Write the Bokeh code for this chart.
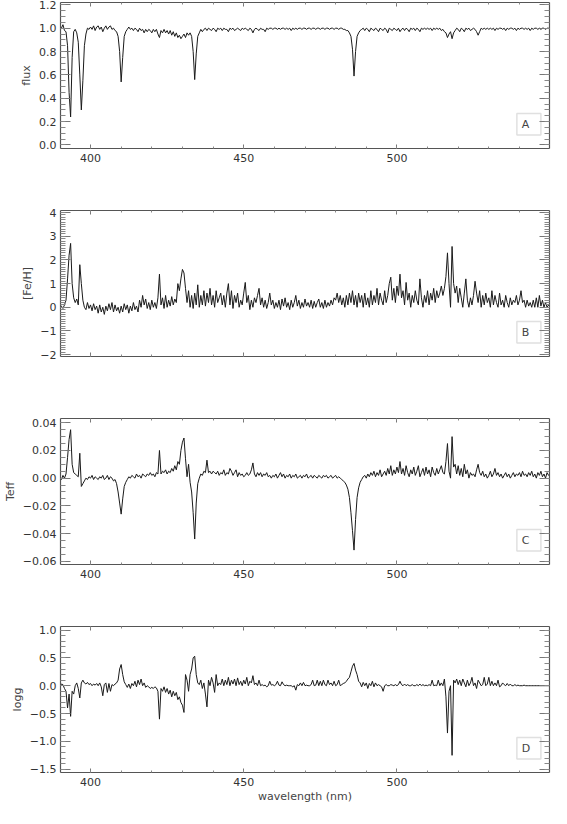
import numpy as np
from bokeh.plotting import figure
from bokeh.layouts import column
from bokeh.models import (LinearAxis, SingleIntervalTicker, CustomJSTickFormatter,
                          Label, BoxAnnotation, Range1d)
from bokeh.embed import file_html
from bokeh.resources import INLINE

# wavelength grid (nm), 0.5 nm sampling from 390 to 550
wave = np.arange(390.0, 550.01, 0.5)

flux = [
    0.99, 1.00, 1.03, 0.98, 0.97, 0.85, 0.45, 0.24, 0.75, 0.97, 0.99, 0.96, 0.88, 0.60, 0.30, 0.55, 0.85, 0.95, 1.00, 0.99,
    1.01, 0.99, 1.02, 0.98, 1.01, 1.02, 0.99, 1.01, 0.97, 1.00, 1.02, 0.99, 1.01, 1.02, 0.99, 1.00, 0.98, 0.97, 0.93, 0.80,
    0.54, 0.75, 0.93, 0.97, 0.99, 1.01, 0.99, 1.00, 0.98, 1.00, 0.99, 0.97, 1.00, 0.98, 0.99, 0.96, 0.99, 0.97, 0.99, 0.98,
    0.96, 0.99, 0.97, 0.99, 0.95, 0.92, 0.98, 0.96, 0.99, 0.96, 0.98, 0.95, 0.98, 0.94, 0.97, 0.93, 0.96, 0.92, 0.94, 0.91,
    0.93, 0.95, 0.92, 0.96, 0.94, 0.96, 0.93, 0.80, 0.56, 0.78, 0.93, 0.96, 0.99, 0.97, 0.99, 1.00, 0.98, 1.00, 0.99, 0.98,
    1.00, 0.99, 0.97, 1.00, 0.99, 1.00, 0.98, 1.00, 0.99, 0.99, 0.97, 1.00, 0.99, 1.00, 0.98, 0.99, 1.00, 0.99, 0.98, 1.00,
    0.99, 1.00, 0.99, 0.98, 1.00, 0.99, 0.96, 0.99, 1.00, 0.99, 0.98, 1.00, 0.99, 0.99, 0.97, 1.00, 0.99, 1.00, 1.00, 0.99,
    1.00, 1.00, 0.99, 1.00, 0.99, 1.00, 1.00, 0.99, 1.00, 0.99, 1.00, 0.98, 1.00, 0.99, 1.00, 0.99, 1.00, 1.00, 0.99, 1.00,
    1.00, 0.99, 1.00, 1.00, 0.99, 1.00, 1.00, 0.99, 1.00, 1.00, 0.99, 1.00, 1.00, 0.99, 1.00, 1.00, 0.99, 1.00, 1.00, 0.99,
    1.00, 1.00, 0.99, 1.00, 1.00, 0.99, 0.99, 0.98, 0.98, 0.96, 0.93, 0.82, 0.59, 0.80, 0.93, 0.96, 0.98, 0.99, 1.00, 0.98,
    1.00, 0.99, 0.97, 1.00, 0.99, 0.98, 1.00, 0.99, 0.97, 1.00, 0.99, 0.98, 1.00, 0.99, 0.96, 1.00, 0.99, 0.98, 1.00, 0.99,
    0.98, 1.00, 0.97, 0.99, 1.00, 0.98, 1.00, 0.99, 0.97, 1.00, 0.99, 1.00, 0.98, 1.00, 0.99, 0.97, 1.00, 0.99, 1.00, 0.99,
    1.00, 0.99, 1.00, 0.98, 1.00, 0.99, 1.00, 0.99, 1.00, 0.98, 0.99, 0.97, 0.96, 0.92, 0.95, 0.97, 0.91, 0.96, 0.98, 1.00,
    0.99, 0.97, 1.00, 0.99, 0.97, 1.00, 0.99, 1.00, 0.98, 0.99, 1.00, 0.99, 0.97, 0.94, 0.97, 1.00, 0.99, 1.00, 0.99, 1.00,
    0.99, 1.00, 0.99, 1.00, 0.98, 1.00, 0.99, 1.00, 1.00, 0.99, 1.00, 0.98, 1.00, 0.99, 1.00, 1.00, 0.99, 1.00, 0.98, 1.00,
    0.99, 1.00, 1.00, 0.99, 1.00, 0.99, 1.00, 0.98, 1.00, 0.99, 1.00, 1.00, 0.99, 1.00, 0.99, 1.00, 1.00, 0.99, 1.00, 1.00,
    1.00,
]

feh = [
    0.00, 0.05, -0.05, 0.10, 0.30, 1.20, 2.20, 2.70, 1.00, 0.40, 0.20, 0.35, 0.10, 1.80, 1.00, 0.30, 0.00, -0.10, 0.20, -0.05,
    0.10, -0.15, 0.15, -0.10, 0.05, -0.25, 0.10, -0.20, 0.00, -0.30, 0.05, -0.15, 0.15, -0.10, 0.20, -0.20, 0.10, -0.15, 0.00, -0.25,
    0.05, -0.20, 0.15, -0.10, 0.10, -0.25, 0.05, -0.15, 0.20, -0.10, 0.05, -0.20, 0.30, 0.00, 0.50, 0.10, 0.35, -0.05, 0.20, -0.10,
    0.30, 0.00, 0.20, -0.05, 0.40, 1.40, 0.10, 0.40, -0.05, 0.50, 0.00, 0.30, 0.05, 0.45, 0.10, 0.35, 0.20, 1.00, 0.70, 1.20,
    1.60, 1.45, 0.80, 0.20, 0.70, 0.00, 0.50, -0.05, 0.60, 0.10, 0.95, 0.00, 0.50, 0.10, 0.70, 0.05, 0.60, 0.20, 0.80, 0.10,
    0.50, 0.00, 0.70, 0.20, 0.40, 0.60, 0.10, 0.50, 0.00, 0.60, 1.00, 0.10, 0.70, -0.05, 0.50, 0.20, 0.60, 0.00, 0.30, 0.10,
    0.60, 1.05, 0.20, 0.50, -0.10, 0.30, 0.00, 0.40, 0.20, 0.50, 0.80, 0.10, 0.40, 0.00, 0.30, -0.05, 0.20, 0.60, 0.10, 0.30,
    -0.05, 0.20, 0.00, 0.30, -0.10, 0.35, 0.05, 0.40, 0.00, 0.20, -0.10, 0.30, 0.00, 0.20, 0.50, 0.05, 0.30, -0.05, 0.20, 0.00,
    0.35, 0.05, 0.20, 0.00, 0.30, -0.05, 0.25, 0.00, 0.20, 0.35, 0.00, 0.20, -0.05, 0.30, 0.00, 0.20, 0.05, 0.30, 0.10, 0.40,
    0.30, 0.60, 0.20, 0.50, 0.10, 0.40, 0.00, 0.50, 0.10, 0.60, 0.20, 0.70, 0.10, 0.50, 0.00, 0.60, 0.20, 0.50, 0.00, 0.60,
    0.10, 0.40, 0.00, 0.70, 0.10, 0.50, 0.20, 0.80, 0.10, 0.60, 0.30, 0.10, 0.70, 0.20, 0.50, 1.00, 1.27, 0.30, 0.80, 0.20,
    0.90, 0.50, 1.40, 0.40, 0.70, 0.10, 1.05, 0.30, 0.60, 0.00, 0.50, 0.20, 0.70, 0.30, 0.10, 1.20, 0.40, 0.00, 0.50, 0.20,
    0.70, 0.10, 0.60, 0.30, 0.80, 0.20, 0.70, 0.40, 0.60, 0.90, 0.50, 0.80, 1.30, 2.30, 1.00, 0.00, 2.57, 1.00, 0.60, 0.90,
    0.20, 0.80, 0.40, 0.00, 0.60, 1.20, 0.30, 0.00, 0.40, 0.10, 0.50, 1.10, 0.60, 0.20, 0.70, 0.00, 0.50, 0.10, 0.60, 0.20,
    0.40, 0.00, 0.70, 0.10, 0.50, 0.20, 0.00, 0.60, 0.10, 0.30, 0.00, 0.50, 0.20, 0.00, 0.40, 0.10, 0.30, 0.20, 0.50, 0.10,
    0.30, 0.70, 0.20, 0.30, 0.00, 0.30, 0.05, 0.20, 0.00, 0.30, 0.00, 0.40, 0.00, 0.50, 0.05, 0.30, 0.00, 0.20, 0.00, 0.10,
    0.00,
]

teff = [
    0.001, -0.001, 0.002, 0.000, 0.003, 0.015, 0.028, 0.035, 0.010, 0.004, 0.003, 0.002, 0.001, 0.018, -0.006, -0.004, -0.002, 0.000, -0.001, 0.001,
    0.000, 0.002, -0.001, 0.001, 0.000, -0.001, 0.001, 0.000, 0.002, -0.001, 0.000, 0.002, -0.001, 0.001, 0.000, -0.002, -0.001, -0.004, -0.010, -0.018,
    -0.026, -0.015, -0.006, -0.003, -0.001, 0.001, 0.000, 0.002, 0.001, 0.000, 0.003, 0.001, 0.002, 0.000, 0.003, 0.002, 0.001, 0.003, 0.002, 0.004,
    0.002, 0.003, 0.001, 0.004, 0.003, 0.020, 0.003, 0.005, 0.004, 0.006, 0.003, 0.005, 0.004, 0.007, 0.005, 0.009, 0.006, 0.012, 0.010, 0.020,
    0.026, 0.029, 0.014, 0.001, 0.010, -0.003, -0.010, -0.025, -0.044, -0.018, -0.004, 0.000, 0.003, 0.002, 0.005, 0.004, 0.013, 0.004, 0.005, 0.003,
    0.005, 0.004, 0.003, 0.005, 0.002, 0.004, 0.003, 0.006, 0.002, 0.004, 0.003, 0.007, 0.005, 0.002, 0.004, 0.006, 0.001, 0.004, 0.002, 0.003,
    0.001, 0.002, 0.004, 0.002, 0.003, 0.006, 0.011, 0.003, 0.001, 0.004, 0.002, 0.004, 0.001, 0.003, 0.002, 0.004, 0.001, 0.002, 0.000, 0.002,
    0.001, 0.003, 0.000, 0.002, 0.004, 0.001, 0.003, 0.000, 0.002, 0.001, 0.003, 0.000, 0.002, 0.001, 0.003, 0.000, 0.001, 0.002, 0.000, 0.002,
    0.001, 0.003, 0.000, 0.001, 0.002, 0.000, 0.002, 0.001, 0.000, 0.002, 0.001, 0.000, 0.002, 0.001, 0.002, 0.000, 0.001, 0.002, 0.000, 0.001,
    0.002, 0.000, 0.001, 0.000, -0.001, -0.002, -0.003, -0.005, -0.008, -0.014, -0.025, -0.038, -0.052, -0.030, -0.014, -0.007, -0.003, -0.001, 0.001, 0.002,
    0.000, 0.003, 0.001, 0.004, 0.002, 0.005, 0.001, 0.004, 0.002, 0.006, 0.001, 0.003, 0.005, 0.002, 0.007, 0.003, 0.009, 0.002, 0.006, 0.003,
    0.008, 0.004, 0.012, 0.003, 0.007, 0.002, 0.009, 0.004, 0.001, 0.006, 0.003, 0.008, 0.002, 0.005, 0.009, 0.001, 0.004, 0.007, 0.002, 0.008,
    0.003, 0.006, 0.001, 0.008, 0.004, 0.002, 0.007, 0.003, 0.006, 0.009, 0.004, 0.003, 0.012, 0.025, 0.005, 0.000, 0.030, 0.008, 0.010, 0.003,
    0.009, 0.002, 0.007, 0.001, 0.010, 0.003, 0.006, 0.000, 0.004, 0.002, 0.003, 0.001, 0.006, 0.010, 0.004, 0.002, 0.005, 0.001, 0.003, 0.000,
    0.002, 0.005, 0.001, 0.003, 0.007, 0.002, 0.004, 0.001, 0.003, 0.000, 0.002, 0.004, 0.001, 0.003, 0.000, 0.002, 0.004, 0.001, 0.003, 0.002,
    0.004, 0.001, 0.005, 0.002, 0.003, 0.001, 0.004, 0.002, 0.005, 0.001, 0.003, 0.000, 0.004, 0.002, 0.005, 0.001, 0.003, 0.000, 0.004, 0.002,
    0.001,
]

logg = [
    -0.02, 0.03, 0.02, -0.05, -0.10, -0.40, -0.15, -0.55, -0.10, -0.15, 0.00, 0.05, -0.05, -0.22, 0.05, 0.10, 0.05, 0.03, 0.06, 0.02,
    0.04, 0.00, 0.03, 0.01, 0.04, 0.00, 0.05, -0.02, -0.18, 0.02, 0.05, -0.12, 0.04, -0.10, 0.02, 0.00, 0.03, 0.05, 0.10, 0.30,
    0.38, 0.20, 0.07, 0.02, -0.03, 0.03, -0.05, 0.04, 0.00, 0.08, -0.02, 0.10, 0.02, 0.12, 0.00, 0.05, -0.03, 0.00, -0.02, -0.05,
    -0.03, -0.05, -0.02, -0.04, -0.10, -0.60, -0.05, -0.10, -0.02, -0.12, -0.05, -0.15, -0.08, -0.20, -0.10, -0.18, -0.12, -0.25, -0.20, -0.30,
    -0.35, -0.48, 0.20, 0.10, -0.10, 0.20, 0.30, 0.50, 0.53, 0.20, 0.05, 0.02, 0.10, -0.05, 0.05, -0.15, -0.38, 0.10, 0.00, 0.15,
    0.05, -0.12, 0.20, 0.00, 0.05, 0.02, 0.12, 0.00, 0.10, 0.02, 0.15, 0.00, 0.10, 0.03, 0.12, 0.00, 0.14, 0.02, 0.08, 0.00,
    0.10, 0.03, 0.15, 0.00, 0.08, 0.05, 0.18, 0.02, 0.05, 0.00, 0.10, 0.00, 0.02, 0.00, 0.01, -0.02, 0.00, 0.08, 0.01, 0.02,
    0.00, 0.02, 0.08, 0.01, 0.00, 0.07, 0.02, 0.00, 0.01, 0.00, 0.00, 0.00, -0.02, 0.00, -0.08, 0.02, 0.00, 0.05, 0.00, 0.06,
    0.00, 0.01, 0.00, 0.00, 0.02, 0.10, 0.00, 0.01, 0.10, 0.00, 0.08, 0.00, 0.10, 0.02, 0.00, 0.10, 0.02, 0.05, 0.00, 0.08,
    0.00, 0.02, 0.10, 0.00, 0.02, 0.04, 0.05, 0.08, 0.12, 0.15, 0.25, 0.35, 0.40, 0.28, 0.20, 0.08, 0.05, -0.02, 0.06, 0.00,
    0.05, -0.05, 0.04, 0.00, 0.08, -0.02, 0.05, 0.00, 0.02, 0.00, -0.02, -0.10, 0.00, 0.02, 0.00, 0.00, 0.02, 0.01, 0.00, 0.02,
    0.00, 0.02, 0.08, 0.02, 0.00, 0.03, 0.00, 0.02, 0.00, 0.00, 0.02, 0.00, 0.00, 0.02, 0.00, 0.03, 0.00, 0.02, 0.00, 0.01,
    0.00, 0.02, 0.00, 0.10, 0.00, 0.01, 0.00, 0.10, 0.00, 0.05, 0.00, 0.12, -0.20, -0.85, -0.10, 0.00, -1.25, 0.10, 0.05, 0.12,
    0.02, 0.10, 0.00, 0.12, 0.05, -0.02, 0.10, 0.00, 0.05, 0.15, 0.00, 0.05, -0.05, 0.10, 0.05, 0.00, 0.02, 0.15, 0.00, 0.03,
    0.15, 0.00, 0.08, 0.00, 0.05, 0.00, 0.10, -0.02, 0.00, 0.05, 0.02, 0.00, 0.04, 0.00, 0.03, 0.00, 0.00, 0.02, 0.00, 0.01,
    0.00, 0.00, 0.00, 0.01, 0.00, 0.00, 0.00, 0.00, 0.00, 0.00, 0.00, 0.00, 0.00, 0.00, 0.00, 0.00, 0.00, 0.00, 0.00, 0.00,
    0.00,
]

y_labels = ["flux", "[Fe/H]", "Teff", "logg"]
tags = ["A", "B", "C", "D"]
y_ranges = [(-0.03, 1.22), (-2.08, 4.09), (-0.0624, 0.0431), (-1.558, 1.063)]
y_intervals = [0.2, 1.0, 0.02, 0.5]
y_minor = [4, 10, 4, 5]
y_digits = [1, 0, 2, 1]
x_range = (390.2, 549.8)

FONT = "DejaVu Sans"
AXIS_COL = "#555555"
TEXT_COL = "#333333"

series = [flux, feh, teff, logg]
show_xlabels = [True, False, True, True]
borders = [(2, 30), (32, 30), (32, 30), (32, 34)]
frame_h = 146


def style_common(ax):
    ax.major_tick_out = 0
    ax.minor_tick_out = 0
    ax.axis_line_color = AXIS_COL
    ax.axis_line_width = 1.2
    ax.major_tick_line_color = "#777777"
    ax.minor_tick_line_color = "#888888"
    ax.major_label_text_font = FONT
    ax.major_label_text_color = TEXT_COL
    ax.major_label_text_font_size = "11px"
    ax.axis_label_text_font = FONT
    ax.axis_label_text_font_style = "normal"
    ax.axis_label_text_font_size = "11px"
    ax.axis_label_text_color = "#444444"
    ax.axis_label_standoff = 3


def hide_labels(ax):
    ax.major_label_text_font_size = "0px"
    ax.major_label_standoff = 0


figs = []
for i in range(4):
    assert len(series[i]) == len(wave)
    top, bottom = borders[i]
    p = figure(width=551, height=top + frame_h + bottom,
               x_range=Range1d(*x_range), y_range=Range1d(*y_ranges[i]),
               output_backend="svg", toolbar_location=None,
               min_border_left=50, min_border_right=2,
               min_border_top=top, min_border_bottom=bottom)
    p.xgrid.visible = False
    p.ygrid.visible = False
    p.outline_line_color = None
    p.background_fill_color = "white"
    p.border_fill_color = "white"

    top_axis = LinearAxis()
    right_axis = LinearAxis()
    p.add_layout(top_axis, "above")
    p.add_layout(right_axis, "right")

    fmt = CustomJSTickFormatter(code=(
        "var s = Math.abs(tick).toFixed(%d);"
        "return (tick < -1e-9 ? '\\u2212' : '') + s;" % y_digits[i]))

    bottom_axis = p.below[0]
    left_axis = p.left[0]

    for ax in (bottom_axis, top_axis):
        ax.ticker = SingleIntervalTicker(interval=50, num_minor_ticks=5)
        style_common(ax)
        ax.major_tick_in = 4
        ax.minor_tick_in = 2
    for ax in (left_axis, right_axis):
        ax.ticker = SingleIntervalTicker(interval=y_intervals[i], num_minor_ticks=y_minor[i])
        ax.formatter = fmt
        style_common(ax)
        ax.major_tick_in = 10
        ax.minor_tick_in = 5

    bottom_axis.major_label_standoff = 5
    left_axis.major_label_standoff = 4
    left_axis.axis_label = y_labels[i]
    hide_labels(top_axis)
    hide_labels(right_axis)
    if not show_xlabels[i]:
        hide_labels(bottom_axis)

    if i == 3:
        bottom_axis.axis_label = "wavelength (nm)"
        bottom_axis.axis_label_standoff = 1

    p.line(wave, series[i], line_color="#1a1a1a", line_width=1)

    xs, xe = x_range
    ys, ye = y_ranges[i]
    xspan, yspan = xe - xs, ye - ys
    p.add_layout(BoxAnnotation(left=xe - 0.0667 * xspan, right=xe - 0.0176 * xspan,
                               bottom=ys + 0.093 * yspan, top=ys + 0.24 * yspan,
                               fill_color=None, fill_alpha=0,
                               line_color="#999999", line_width=1.5))
    p.add_layout(Label(x=xe - 0.057 * xspan, y=ys + 0.166 * yspan, text=tags[i],
                       text_font=FONT, text_font_size="11px", text_color="#444444",
                       text_align="left", text_baseline="middle"))
    figs.append(p)

layout = column(*figs)
open("out.html", "w").write(file_html(layout, INLINE))
